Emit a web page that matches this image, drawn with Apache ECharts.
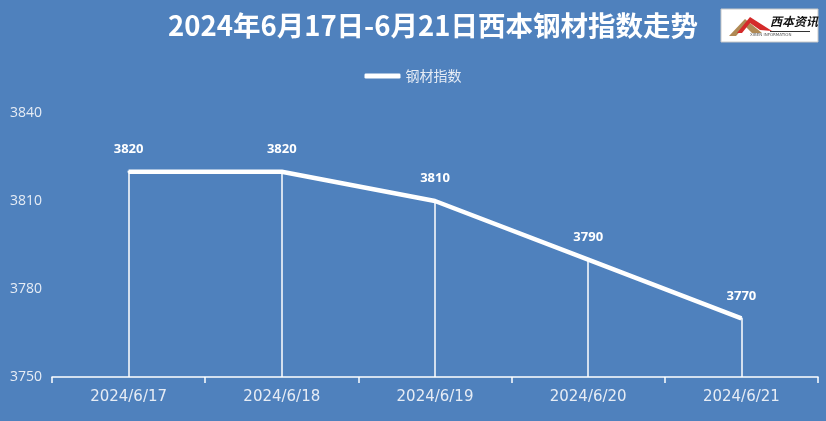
<!DOCTYPE html>
<html><head><meta charset="utf-8">
<script src="https://cdn.jsdelivr.net/npm/echarts@6/dist/echarts.min.js"></script>
<style>html,body{margin:0;padding:0;background:#4f81bd;}#c{width:826px;height:421px;}</style>
</head><body><div id="c"></div>
<script>
var categories = ['2024/6/17','2024/6/18','2024/6/19','2024/6/20','2024/6/21'];
var values = [3820, 3820, 3810, 3790, 3770];
var yMin = 3750, yMax = 3840, yInterval = 30;
var seriesName = '钢材指数';
var titleText = '2024年6月17日-6月21日西本钢材指数走势';

var chart = echarts.init(document.getElementById('c'));
var drops = values.map(function(v, i){ return [{coord:[i, v]}, {coord:[i, yMin]}]; });
chart.setOption({
  backgroundColor: '#4f81bd',
  animation: false,
  title: {
    text: titleText, left: 428, top: 7, textAlign: 'center',
    textStyle: {color: '#ffffff', fontSize: 27.5, fontWeight: 'bold', fontFamily: 'Noto Sans CJK SC'}
  },
  legend: {
    data: [seriesName], left: 'center', top: 64, itemWidth: 36, itemHeight: 5,
    textStyle: {color: '#e6ecf5', fontSize: 14, fontFamily: 'Noto Sans CJK SC'},
    icon: 'roundRect'
  },
  grid: {left: 52, right: 8, top: 113, bottom: 44},
  xAxis: {
    type: 'category', data: categories, boundaryGap: true,
    axisLine: {lineStyle: {color: '#ffffff', width: 1.5}},
    axisTick: {show: true, length: 6, lineStyle: {color: '#ffffff', width: 1.5}},
    axisLabel: {color: '#e6ecf5', fontSize: 15, margin: 13, fontFamily: 'DejaVu Sans'}
  },
  yAxis: {
    type: 'value', min: yMin, max: yMax, interval: yInterval,
    axisLine: {show: false}, axisTick: {show: false}, splitLine: {show: false},
    axisLabel: {color: '#e6ecf5', fontSize: 14, align: 'left', margin: 42, fontFamily: 'Open Sans',
      formatter: function(v){ return String(v); }}
  },
  series: [{
    name: seriesName, type: 'line', data: values, symbol: 'rect', symbolSize: 2, showSymbol: true,
    lineStyle: {color: '#ffffff', width: 4.5},
    itemStyle: {color: '#ffffff'},
    label: {show: true, position: 'top', distance: 15, color: '#ffffff', fontWeight: 'bold', fontSize: 13, fontFamily: 'Open Sans'},
    markLine: {
      silent: true, symbol: 'none', label: {show: false},
      lineStyle: {color: '#ffffff', width: 1.5, type: 'solid'},
      data: drops
    }
  }],
  graphic: [
    {type: 'rect', shape: {x: 721, y: 9, width: 97, height: 33}, style: {fill: '#ffffff', stroke: '#c8c8c8', lineWidth: 1}},
    {type: 'polygon', shape: {points: [[729,36],[745,19],[762,33],[752,33],[745,26],[736,36]]}, style: {fill: '#b08a55'}},
    {type: 'polygon', shape: {points: [[737,33],[750,17],[772,31],[760,30],[750,23],[742,33]]}, style: {fill: '#d42a2a'}},
    {type: 'text', style: {text: '西本资讯', x: 770, y: 15, fill: '#111111', fontSize: 12, fontWeight: 'bold', fontStyle: 'italic', fontFamily: 'Noto Sans CJK SC'}},
    {type: 'rect', shape: {x: 770, y: 31, width: 40, height: 1}, style: {fill: '#333333'}},
    {type: 'text', style: {text: 'XIBEN INFORMATION', x: 750, y: 33, fill: '#555555', fontSize: 4, fontFamily: 'DejaVu Sans'}}
  ]
});
</script></body></html>
